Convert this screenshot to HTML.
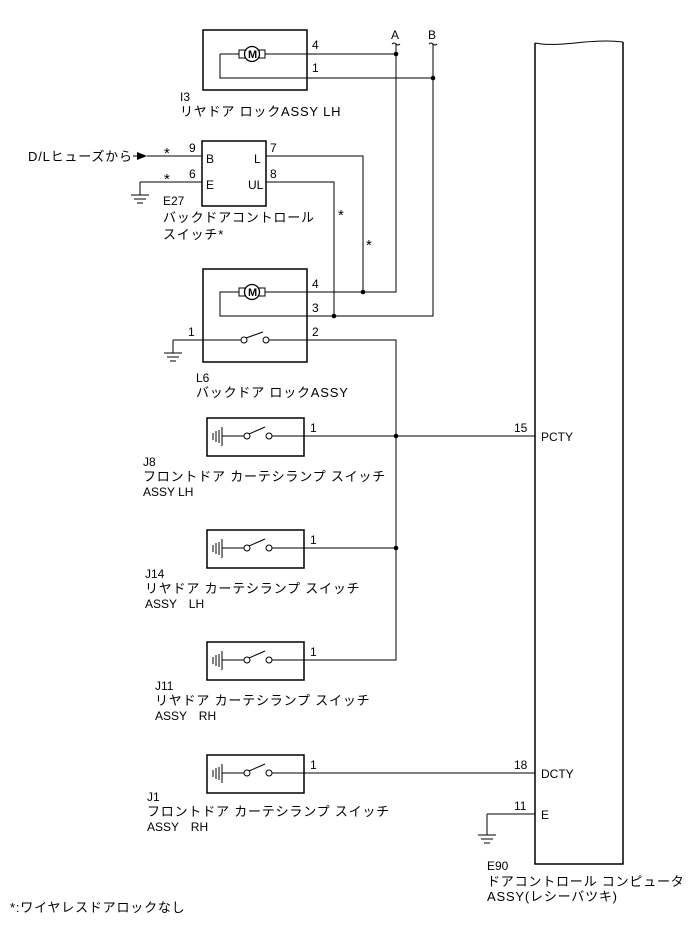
<!DOCTYPE html>
<html><head><meta charset="utf-8"><style>
html,body{margin:0;padding:0;background:#fff}
svg{display:block}
text{font-family:"Liberation Sans","Noto Sans CJK JP",sans-serif;font-size:12px;fill:#000}
text.j{font-size:13px;letter-spacing:0.8px}
text.s{font-size:15px}
</style></head><body>
<svg width="689" height="951" viewBox="0 0 689 951" xmlns="http://www.w3.org/2000/svg">
<defs>
<g id="sw" fill="none" stroke="#000" stroke-width="1">
<line x1="6" y1="15" x2="6" y2="22"/><line x1="9" y1="13" x2="9" y2="24"/><line x1="12" y1="12" x2="12" y2="25"/><line x1="15" y1="9" x2="15" y2="28"/>
<line x1="15" y1="18" x2="37" y2="18"/><circle cx="40" cy="18" r="3"/><line x1="42" y1="16" x2="58" y2="9"/><circle cx="62" cy="18" r="3"/><line x1="65" y1="18" x2="97" y2="18"/>
<rect x="0" y="0" width="97" height="38" stroke-width="1.5"/>
</g>
<g id="mot" fill="#fff" stroke="#000" stroke-width="1">
<rect x="-13" y="-4" width="6" height="8"/><rect x="7" y="-4" width="6" height="8"/><circle cx="0" cy="0" r="7.5" stroke-width="1.3"/>
</g>
</defs>
<g fill="none" stroke="#000" stroke-width="1">
<path d="M535 43 C560 48 590 38 623 42" />
<path d="M535 43 V864 H623 V42" stroke-width="1.5"/>
<rect x="203" y="30" width="104" height="60" stroke-width="1.5"/>
<path d="M264 54 H396 M220 54 H239 M220 54 V78 H433"/>
<path d="M396 44 V292 H220 V316 H433 V44"/>
<path d="M392 44 q2 -2 4 0 q2 2 4 0 M429 44 q2 -2 4 0 q2 2 4 0"/>
<rect x="202" y="141" width="64" height="65" stroke-width="1.5"/>
<path d="M147 156 H202 M140 182 H202 M140 182 V195"/>
<path d="M131 195 H149 M134 199 H146 M137 203 H143"/>
<path d="M266 156 H363 V292 M266 182 H334 V316"/>
<rect x="203" y="269" width="104" height="93" stroke-width="1.5"/>
<path d="M173 340 H241 M173 340 V353 M164 353 H182 M167 357 H179 M170 361 H176"/>
<circle cx="244" cy="340" r="3"/><line x1="246" y1="338" x2="263" y2="332"/><circle cx="266" cy="340" r="3"/>
<path d="M269 340 H396 V660 H303 M303 548 H396 M303 436 H535 M303 773 H535"/>
<path d="M487 814 H535 M487 814 V835 M478 835 H496 M481 839 H493 M484 843 H490"/>
</g>
<use href="#mot" x="252" y="54"/>
<use href="#mot" x="252" y="292"/>
<text x="248" y="58" style="font-size:11px;font-weight:bold">M</text>
<text x="248" y="296" style="font-size:11px;font-weight:bold">M</text>
<use href="#sw" x="207" y="418"/>
<use href="#sw" x="207" y="530"/>
<use href="#sw" x="207" y="642"/>
<use href="#sw" x="207" y="755"/>
<polygon points="137,152 147,156 137,160" fill="#000"/>
<line x1="133" y1="156" x2="137" y2="156" stroke="#000"/>
<g fill="#000">
<circle cx="396" cy="54" r="2.3"/><circle cx="433" cy="78" r="2.3"/>
<circle cx="363" cy="292" r="2.3"/><circle cx="334" cy="316" r="2.3"/>
<circle cx="396" cy="436" r="2.3"/><circle cx="396" cy="548" r="2.3"/>
</g>
<text x="391" y="39">A</text><text x="428" y="39">B</text>
<text x="312" y="49">4</text><text x="312" y="72">1</text>
<text x="180" y="101">I3</text>
<text class="j" x="180" y="116">リヤドア ロックASSY LH</text>
<text class="j" x="28" y="161">D/Lヒューズから</text>
<text class="s" x="164" y="158">*</text><text class="s" x="164" y="184">*</text>
<text x="189" y="152">9</text><text x="189" y="178">6</text>
<text x="206" y="163">B</text><text x="206" y="189">E</text>
<text x="254" y="163">L</text><text x="248" y="189">UL</text>
<text x="270" y="152">7</text><text x="270" y="178">8</text>
<text x="163" y="205">E27</text>
<text class="j" x="163" y="222">バックドアコントロール</text>
<text class="j" x="163" y="239">スイッチ*</text>
<text class="s" x="338" y="220">*</text><text class="s" x="366" y="250">*</text>
<text x="312" y="288">4</text><text x="312" y="312">3</text>
<text x="188" y="336">1</text><text x="312" y="336">2</text>
<text x="196" y="382">L6</text>
<text class="j" x="196" y="397">バックドア ロックASSY</text>
<text x="310" y="432">1</text><text x="514" y="432">15</text><text x="541" y="441">PCTY</text>
<text x="143" y="466">J8</text>
<text class="j" x="143" y="481">フロントドア カーテシランプ スイッチ</text>
<text x="143" y="496">ASSY LH</text>
<text x="310" y="544">1</text>
<text x="145" y="578">J14</text>
<text class="j" x="145" y="593">リヤドア カーテシランプ スイッチ</text>
<text x="145" y="608">ASSY　LH</text>
<text x="310" y="656">1</text>
<text x="155" y="690">J11</text>
<text class="j" x="155" y="705">リヤドア カーテシランプ スイッチ</text>
<text x="155" y="720">ASSY　RH</text>
<text x="310" y="769">1</text><text x="514" y="769">18</text><text x="541" y="778">DCTY</text>
<text x="514" y="810">11</text><text x="541" y="819">E</text>
<text x="147" y="801">J1</text>
<text class="j" x="147" y="816">フロントドア カーテシランプ スイッチ</text>
<text x="147" y="831">ASSY　RH</text>
<text x="487" y="870">E90</text>
<text class="j" x="487" y="886">ドアコントロール コンピュータ</text>
<text class="j" x="487" y="901">ASSY(レシーバツキ)</text>
<text class="j" x="10" y="912">*:ワイヤレスドアロックなし</text>
</svg>
</body></html>
